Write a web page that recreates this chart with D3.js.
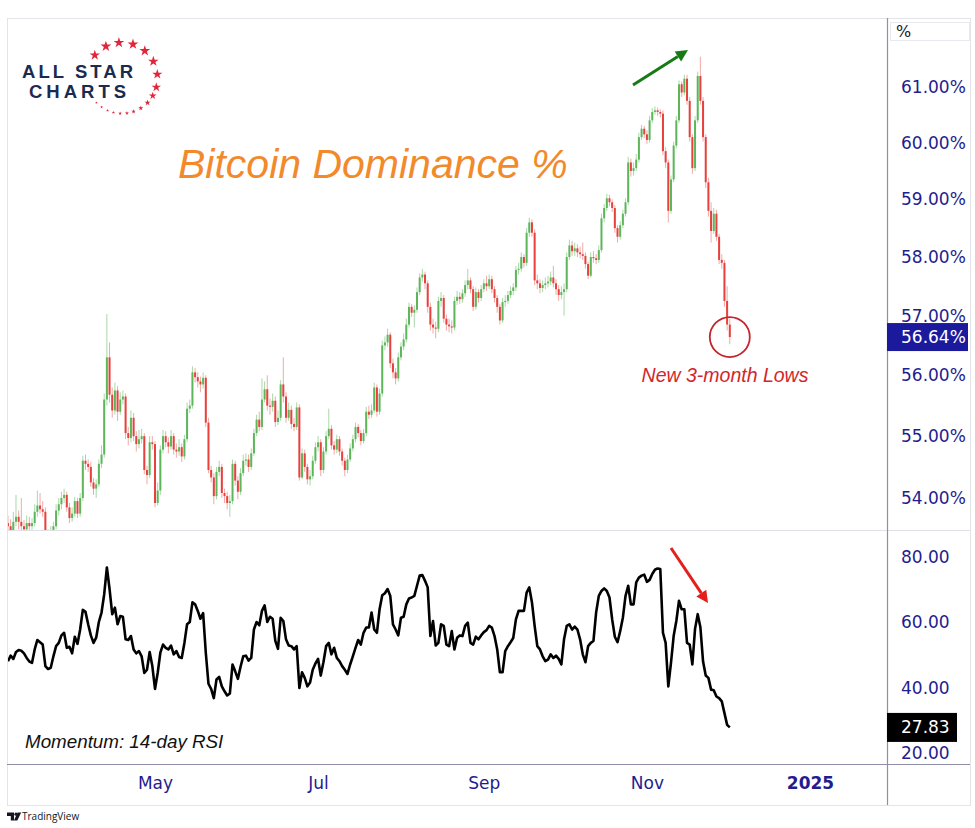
<!DOCTYPE html>
<html>
<head>
<meta charset="utf-8">
<script src="https://cdn.jsdelivr.net/npm/d3@7"></script>
<style>
  body { margin: 0; background: #fff; }
  svg { display: block; }
</style>
</head>
<body>
<div id="chart"></div>
<script>
// daily candles, first one on 7 Mar 2024, opens = previous close
const startDate = new Date(Date.UTC(2024, 2, 7))
const firstOpen = 53.60

const closes = [
  53.55, 53.45, 53.62, 53.70, 53.62, 53.55, 53.50, 53.60, 53.55, 53.60,
  53.78, 53.88, 53.82, 53.78, 53.40, 53.35, 53.42, 53.55, 53.80, 53.90,
  54.00, 54.05, 53.85, 53.68, 53.75, 53.95, 53.75, 54.00, 54.60, 54.55,
  54.50, 54.25, 54.15, 54.22, 54.55, 54.70, 55.60, 56.30, 55.68, 55.42,
  55.75, 55.40, 55.60, 55.65, 55.05, 54.97, 55.30, 55.00, 54.87, 54.95,
  55.00, 54.45, 54.37, 54.90, 54.87, 53.92, 54.12, 54.78, 55.00, 54.90,
  54.83, 55.00, 54.78, 54.75, 54.82, 54.67, 54.95, 55.45, 55.50, 56.05,
  55.97, 55.90, 55.85, 55.96, 55.22, 54.45, 54.33, 54.03, 54.42, 54.50,
  54.08, 54.03, 53.92, 53.95, 54.55, 54.28, 54.10, 54.40, 54.60, 54.62,
  54.50, 54.72, 55.05, 55.27, 55.15, 55.60, 55.77, 55.50, 55.48, 55.58,
  55.23, 55.30, 55.85, 55.65, 55.30, 55.43, 55.20, 55.15, 55.47, 54.33,
  54.72, 54.50, 54.30, 54.35, 54.60, 54.82, 54.90, 54.45, 54.75, 55.00,
  55.12, 54.85, 54.78, 54.95, 54.75, 54.60, 54.45, 54.62, 54.80, 54.95,
  55.15, 55.05, 54.92, 55.05, 55.40, 55.35, 55.42, 55.80, 55.40, 55.70,
  56.50, 56.55, 56.68, 56.20, 56.05, 55.95, 56.30, 56.48, 56.60, 56.85,
  57.15, 57.05, 57.10, 57.40, 57.65, 57.70, 57.55, 57.15, 56.85, 56.80,
  56.78, 57.25, 57.30, 56.95, 56.85, 56.82, 56.80, 57.25, 57.32, 57.28,
  57.38, 57.52, 57.60, 57.45, 57.15, 57.40, 57.30, 57.45, 57.55, 57.50,
  57.62, 57.45, 57.30, 57.15, 56.92, 57.23, 57.25, 57.35, 57.42, 57.48,
  57.78, 57.80, 58.00, 57.90, 58.42, 58.60, 58.42, 57.60, 57.55, 57.47,
  57.52, 57.55, 57.58, 57.65, 57.55, 57.45, 57.35, 57.40, 57.45, 58.00,
  58.20, 58.10, 58.15, 58.08, 58.05, 58.02, 57.88, 57.68, 58.00, 57.98,
  57.95, 58.12, 58.67, 58.85, 59.02, 58.95, 58.85, 58.50, 58.35, 58.55,
  58.75, 58.95, 59.65, 59.50, 59.55, 59.70, 60.10, 60.25, 60.15, 60.05,
  60.40, 60.55, 60.58, 60.55, 60.52, 59.85, 59.65, 58.80, 59.35, 59.95,
  60.40, 61.05, 60.90, 61.15, 60.75, 60.10, 59.55, 60.40, 61.20, 60.75,
  60.10, 59.30, 58.80, 58.45, 58.75, 58.35, 57.95, 57.90, 57.25, 56.85,
  56.64
]

const highs = [
  53.72, 53.66, 53.78, 54.05, 53.80, 54.00, 53.65, 53.72, 53.70, 53.68,
  53.90, 54.12, 54.08, 53.95, 53.85, 53.50, 53.55, 53.62, 53.90, 54.00,
  54.10, 54.15, 54.10, 53.92, 53.85, 54.02, 54.00, 54.08, 54.68, 54.70,
  54.62, 54.58, 54.32, 54.30, 54.62, 54.85, 55.70, 57.03, 56.55, 55.80,
  55.88, 55.82, 55.72, 55.75, 55.70, 55.15, 55.42, 55.38, 55.08, 55.10,
  55.12, 55.05, 54.52, 55.00, 55.00, 54.92, 54.25, 54.85, 55.10, 55.08,
  54.98, 55.10, 55.05, 54.88, 54.95, 54.88, 55.02, 55.55, 55.60, 56.15,
  56.12, 56.05, 55.98, 56.05, 56.00, 55.30, 54.52, 54.40, 54.50, 54.60,
  54.55, 54.15, 54.10, 54.05, 54.62, 54.60, 54.35, 54.48, 54.70, 54.72,
  54.70, 54.80, 55.12, 55.35, 55.40, 55.95, 55.90, 56.00, 55.62, 55.70,
  55.65, 55.42, 55.92, 56.30, 55.72, 55.55, 55.50, 55.30, 55.55, 55.52,
  54.80, 54.78, 54.55, 54.45, 54.68, 54.90, 55.00, 54.95, 54.82, 55.08,
  55.45, 55.18, 54.92, 55.02, 55.00, 54.80, 54.65, 54.70, 54.88, 55.02,
  55.22, 55.20, 55.10, 55.12, 55.48, 55.50, 55.52, 55.88, 55.85, 55.78,
  56.58, 56.65, 56.78, 56.72, 56.28, 56.12, 56.38, 56.55, 56.70, 56.95,
  57.22, 57.20, 57.18, 57.48, 57.72, 57.80, 57.75, 57.60, 57.22, 56.95,
  56.90, 57.32, 57.40, 57.35, 57.02, 56.95, 56.92, 57.32, 57.42, 57.40,
  57.45, 57.60, 57.80, 57.65, 57.50, 57.48, 57.45, 57.52, 57.62, 57.68,
  57.70, 57.68, 57.50, 57.35, 57.20, 57.30, 57.35, 57.42, 57.50, 57.55,
  57.85, 57.90, 58.08, 58.05, 58.50, 58.68, 58.65, 58.48, 57.70, 57.62,
  57.60, 57.65, 57.68, 57.75, 57.85, 57.62, 57.52, 57.50, 57.55, 58.08,
  58.30, 58.28, 58.25, 58.22, 58.18, 58.25, 58.08, 57.92, 58.08, 58.10,
  58.05, 58.20, 58.75, 58.92, 59.10, 59.08, 59.00, 58.90, 58.55, 58.62,
  58.82, 59.02, 59.75, 59.72, 59.65, 59.80, 60.18, 60.32, 60.30, 60.22,
  60.48, 60.62, 60.65, 60.63, 60.60, 60.58, 59.92, 59.70, 59.42, 60.02,
  60.48, 61.12, 61.10, 61.22, 61.22, 60.82, 60.15, 60.48, 61.28, 61.55,
  60.82, 60.15, 59.38, 58.95, 58.85, 58.82, 58.40, 58.05, 57.95, 57.50,
  56.95
]

const lows = [
  53.40, 53.38, 53.40, 53.55, 53.50, 53.45, 53.40, 53.44, 53.42, 53.48,
  53.55, 53.70, 53.75, 53.70, 53.30, 53.25, 53.28, 53.36, 53.50, 53.72,
  53.82, 53.92, 53.78, 53.60, 53.62, 53.70, 53.68, 53.70, 53.95, 54.45,
  54.42, 54.18, 54.05, 54.00, 54.18, 54.48, 54.65, 55.50, 55.55, 55.30,
  55.35, 55.25, 55.35, 55.52, 54.95, 54.85, 54.90, 54.92, 54.75, 54.80,
  54.88, 54.38, 54.22, 54.32, 54.78, 53.85, 53.88, 54.05, 54.72, 54.82,
  54.72, 54.78, 54.70, 54.65, 54.68, 54.58, 54.62, 54.90, 55.38, 55.45,
  55.88, 55.80, 55.72, 55.78, 55.15, 54.40, 54.25, 53.90, 53.98, 54.35,
  54.00, 53.92, 53.82, 53.70, 53.90, 54.20, 53.98, 54.05, 54.35, 54.52,
  54.42, 54.45, 54.68, 55.00, 55.08, 55.10, 55.55, 55.42, 55.35, 55.40,
  55.15, 55.18, 55.25, 55.55, 55.22, 55.25, 55.12, 55.08, 55.10, 54.28,
  54.30, 54.42, 54.22, 54.20, 54.30, 54.55, 54.75, 54.35, 54.40, 54.70,
  54.95, 54.78, 54.70, 54.72, 54.68, 54.52, 54.35, 54.40, 54.58, 54.75,
  54.90, 54.98, 54.85, 54.88, 55.00, 55.28, 55.30, 55.38, 55.32, 55.35,
  55.65, 56.42, 56.48, 56.12, 55.95, 55.85, 55.90, 56.25, 56.42, 56.55,
  56.80, 56.98, 56.80, 57.05, 57.35, 57.58, 57.45, 57.05, 56.75, 56.70,
  56.62, 56.72, 57.15, 56.88, 56.75, 56.72, 56.70, 56.75, 57.18, 57.20,
  57.22, 57.32, 57.45, 57.38, 57.08, 57.10, 57.22, 57.25, 57.40, 57.42,
  57.45, 57.38, 57.22, 57.05, 56.85, 56.88, 57.15, 57.20, 57.30, 57.35,
  57.42, 57.70, 57.75, 57.82, 57.85, 58.35, 58.35, 57.52, 57.45, 57.38,
  57.40, 57.45, 57.48, 57.52, 57.48, 57.35, 57.25, 57.28, 57.00, 57.40,
  57.95, 58.02, 58.02, 58.00, 57.98, 57.95, 57.80, 57.62, 57.65, 57.90,
  57.88, 57.90, 58.08, 58.60, 58.80, 58.88, 58.78, 58.42, 58.25, 58.30,
  58.50, 58.70, 58.90, 59.40, 59.42, 59.50, 59.65, 60.05, 60.08, 59.98,
  60.00, 60.35, 60.50, 60.48, 60.45, 59.78, 59.55, 58.60, 58.75, 59.30,
  59.90, 60.35, 60.82, 60.85, 60.68, 60.02, 59.45, 59.50, 60.35, 60.68,
  60.02, 59.20, 58.70, 58.25, 58.40, 58.28, 57.88, 57.80, 57.15, 56.75,
  56.52
]

// 14-day RSI, same days as the candles
const rsi = [
  48.1, 49.8, 48.8, 50.9, 51.5, 51.3, 50.5, 49.1, 48.0, 47.6,
  51.7, 54.6, 53.9, 53.2, 46.6, 45.7, 46.1, 49.6, 52.7, 53.7,
  56.0, 56.8, 52.2, 52.5, 50.5, 55.6, 53.4, 57.8, 63.8, 63.2,
  59.4, 56.0, 53.7, 55.3, 60.1, 63.0, 68.6, 76.8, 70.2, 62.5,
  64.5, 59.4, 61.9, 61.7, 54.8, 54.6, 55.8, 51.7, 50.5, 51.2,
  49.6, 44.5, 45.5, 50.9, 46.6, 39.6, 44.5, 50.7, 53.2, 52.2,
  51.7, 52.9, 50.2, 51.2, 49.4, 49.1, 53.7, 59.4, 60.1, 66.1,
  65.5, 63.5, 61.1, 62.8, 50.7, 41.2, 39.6, 36.8, 42.5, 43.3,
  40.4, 38.9, 37.6, 38.2, 47.1, 45.0, 42.7, 46.4, 49.6, 49.8,
  48.3, 49.1, 57.8, 60.1, 59.1, 63.5, 65.2, 60.1, 61.7, 61.1,
  54.3, 51.9, 61.4, 60.4, 54.8, 52.9, 52.7, 51.7, 52.7, 39.9,
  44.7, 43.0, 40.4, 41.6, 45.5, 47.4, 48.8, 43.7, 47.8, 52.7,
  53.7, 50.2, 52.2, 49.1, 48.1, 46.6, 45.5, 44.2, 47.1, 49.6,
  52.2, 54.6, 53.2, 56.8, 58.4, 58.4, 63.0, 57.8, 56.8, 64.0,
  68.3, 68.9, 70.2, 68.1, 59.4, 57.8, 56.0, 61.4, 61.7, 65.5,
  67.3, 67.6, 68.1, 71.2, 74.3, 74.5, 72.7, 70.7, 55.8, 60.4,
  52.9, 53.7, 59.4, 58.9, 53.2, 52.7, 57.3, 51.7, 55.3, 56.0,
  55.8, 58.9, 59.9, 53.7, 53.2, 55.6, 54.8, 56.0, 57.0, 57.6,
  58.9, 58.4, 55.8, 51.7, 44.7, 44.7, 51.2, 52.7, 53.9, 55.2,
  60.9, 63.5, 63.5, 63.5, 69.1, 70.7, 66.1, 58.9, 52.7, 51.7,
  49.6, 48.1, 48.6, 50.2, 49.1, 49.8, 48.8, 47.1, 54.8, 58.9,
  59.4, 57.8, 58.7, 57.8, 54.8, 50.2, 47.8, 52.7, 53.7, 54.3,
  63.0, 68.1, 69.6, 70.4, 69.6, 67.6, 60.9, 55.6, 53.9, 57.3,
  61.4, 68.1, 71.2, 65.5, 65.5, 72.2, 73.7, 74.3, 74.6, 72.4,
  73.0, 74.8, 76.1, 76.5, 76.3, 56.8, 53.7, 40.4, 47.6, 55.8,
  60.4, 66.6, 64.0, 64.0, 53.7, 53.2, 47.1, 58.0, 62.5, 58.5,
  48.0, 43.7, 43.0, 39.4, 39.2, 37.3, 36.8, 35.8, 32.2, 28.6,
  27.83
]

const priceTicks = [54, 55, 56, 57, 58, 59, 60, 61]
const rsiTicks = [20, 40, 60, 80]
const timeTicks = [
  new Date(Date.UTC(2024, 4, 1)),
  new Date(Date.UTC(2024, 6, 1)),
  new Date(Date.UTC(2024, 8, 1)),
  new Date(Date.UTC(2024, 10, 1)),
  new Date(Date.UTC(2025, 0, 1))
]
const timeLabels = ['May', 'Jul', 'Sep', 'Nov', '2025']

const width = 975
const height = 828

// pane geometry
const pane = {
  left: 7,
  axisX: 887,
  right: 970,
  top: 18,
  split: 530,
  timeY: 764,
  bottom: 805
}

const navy = '#1f1d8f'
const axisFont = '"DejaVu Sans", Verdana, sans-serif'

const svg = d3
  .select('#chart')
  .append('svg')
  .attr('width', width)
  .attr('height', height)

const xPositionScale = d3
  .scaleUtc()
  .domain([timeTicks[0], timeTicks[4]])
  .range([155, 810])

const yPriceScale = d3
  .scaleLog()
  .domain([54, 61])
  .range([498, 87])

const yRsiScale = d3
  .scaleLinear()
  .domain([20, 80])
  .range([753, 557])

const candles = closes.map((c, i) => {
  return {
    date: d3.utcDay.offset(startDate, i),
    open: i === 0 ? firstOpen : closes[i - 1],
    high: highs[i],
    low: lows[i],
    close: c,
    rsi: rsi[i]
  }
})

// frame + separators
svg.append('rect')
  .attr('x', pane.left + 0.5)
  .attr('y', pane.top + 0.5)
  .attr('width', pane.right - pane.left)
  .attr('height', pane.bottom - pane.top)
  .attr('fill', 'none')
  .attr('stroke', '#e3e4ea')

svg.append('line')
  .attr('x1', pane.left).attr('x2', pane.right)
  .attr('y1', pane.split + 0.5).attr('y2', pane.split + 0.5)
  .attr('stroke', '#e0e1e8')

svg.append('line')
  .attr('x1', pane.left).attr('x2', pane.right)
  .attr('y1', pane.timeY + 0.5).attr('y2', pane.timeY + 0.5)
  .attr('stroke', '#8f90a8')
  .attr('stroke-width', 1.2)

svg.append('line')
  .attr('x1', pane.axisX + 0.5).attr('x2', pane.axisX + 0.5)
  .attr('y1', pane.top).attr('y2', pane.bottom)
  .attr('stroke', '#8f90a8')
  .attr('stroke-width', 1.2)

// clip areas
const defs = svg.append('defs')
defs.append('clipPath').attr('id', 'price-clip')
  .append('rect')
  .attr('x', pane.left + 1).attr('y', pane.top + 1)
  .attr('width', pane.axisX - pane.left - 1).attr('height', pane.split - pane.top - 1)

defs.append('clipPath').attr('id', 'rsi-clip')
  .append('rect')
  .attr('x', pane.left + 1).attr('y', pane.split + 1)
  .attr('width', pane.axisX - pane.left - 1).attr('height', pane.timeY - pane.split - 1)

// candles
const candleG = svg.append('g').attr('clip-path', 'url(#price-clip)')

candleG.selectAll('.wick')
  .data(candles)
  .enter()
  .append('line')
  .attr('class', 'wick')
  .attr('x1', d => xPositionScale(d.date))
  .attr('x2', d => xPositionScale(d.date))
  .attr('y1', d => yPriceScale(d.high))
  .attr('y2', d => yPriceScale(d.low))
  .attr('stroke', d => d.close >= d.open ? '#a9d8a6' : '#eeaaa8')
  .attr('stroke-width', 1)

candleG.selectAll('.body')
  .data(candles)
  .enter()
  .append('rect')
  .attr('class', 'body')
  .attr('x', d => xPositionScale(d.date) - 1)
  .attr('width', 2)
  .attr('y', d => yPriceScale(Math.max(d.open, d.close)))
  .attr('height', d => {
    return Math.max(1, Math.abs(yPriceScale(d.open) - yPriceScale(d.close)))
  })
  .attr('fill', d => d.close >= d.open ? '#5db65a' : '#e8403c')

// rsi line
const rsiLine = d3.line()
  .x(d => xPositionScale(d.date))
  .y(d => yRsiScale(d.rsi))

svg.append('g')
  .attr('clip-path', 'url(#rsi-clip)')
  .append('path')
  .datum(candles)
  .attr('d', rsiLine)
  .attr('fill', 'none')
  .attr('stroke', '#000')
  .attr('stroke-width', 2.6)
  .attr('stroke-linejoin', 'round')

// axes
const priceAxis = d3.axisRight(yPriceScale)
  .tickValues(priceTicks)
  .tickFormat(d => d.toFixed(2) + '%')
  .tickSize(0)
  .tickPadding(14)

const rsiAxis = d3.axisRight(yRsiScale)
  .tickValues(rsiTicks)
  .tickFormat(d => d.toFixed(2))
  .tickSize(0)
  .tickPadding(14)

const timeAxis = d3.axisBottom(xPositionScale)
  .tickValues(timeTicks)
  .tickFormat((d, i) => timeLabels[i])
  .tickSize(0)
  .tickPadding(13)

svg.append('g').attr('class', 'y-axis')
  .attr('transform', 'translate(' + pane.axisX + ',0)')
  .call(priceAxis)

svg.append('g').attr('class', 'y-axis')
  .attr('transform', 'translate(' + pane.axisX + ',0)')
  .call(rsiAxis)

svg.append('g').attr('class', 'x-axis')
  .attr('transform', 'translate(0,' + pane.timeY + ')')
  .call(timeAxis)

svg.selectAll('.y-axis .domain, .x-axis .domain').remove()
svg.selectAll('.y-axis text, .x-axis text')
  .attr('fill', navy)
  .style('font-family', axisFont)
  .style('font-size', '17px')
svg.selectAll('.x-axis text')
  .filter((d, i) => i === 4)
  .style('font-weight', 'bold')

// "%" box at the top of the price scale
svg.append('rect')
  .attr('x', 890.5).attr('y', 22.5)
  .attr('width', 79).attr('height', 18)
  .attr('fill', '#fff')
  .attr('stroke', '#e8e9ee')
svg.append('text')
  .attr('x', 896).attr('y', 37)
  .text('%')
  .attr('fill', '#222')
  .style('font-family', axisFont)
  .style('font-size', '16px')

// last value labels
const last = candles[candles.length - 1]

svg.append('rect')
  .attr('x', pane.axisX).attr('y', yPriceScale(last.close) - 14)
  .attr('width', 81).attr('height', 28)
  .attr('fill', '#1c1a9c')
svg.append('text')
  .attr('x', pane.axisX + 14).attr('y', yPriceScale(last.close))
  .attr('dy', '0.35em')
  .text(last.close.toFixed(2) + '%')
  .attr('fill', '#fff')
  .style('font-family', axisFont)
  .style('font-size', '17px')

svg.append('rect')
  .attr('x', pane.axisX).attr('y', yRsiScale(last.rsi) - 14.5)
  .attr('width', 70).attr('height', 29)
  .attr('fill', '#000')
svg.append('text')
  .attr('x', pane.axisX + 14).attr('y', yRsiScale(last.rsi))
  .attr('dy', '0.35em')
  .text(last.rsi.toFixed(2))
  .attr('fill', '#fff')
  .style('font-family', axisFont)
  .style('font-size', '17px')

// titles and notes
svg.append('text')
  .attr('x', 178).attr('y', 178)
  .text('Bitcoin Dominance %')
  .attr('fill', '#f28a2c')
  .style('font-family', '"Liberation Sans", Arial, sans-serif')
  .style('font-style', 'italic')
  .style('font-size', '41px')

svg.append('text')
  .attr('x', 25).attr('y', 748)
  .text('Momentum: 14-day RSI')
  .attr('fill', '#111')
  .style('font-family', '"Liberation Sans", Arial, sans-serif')
  .style('font-style', 'italic')
  .style('font-size', '18.8px')

svg.append('text')
  .attr('x', 725).attr('y', 382)
  .attr('text-anchor', 'middle')
  .text('New 3-month Lows')
  .attr('fill', '#d3262b')
  .style('font-family', '"Liberation Sans", Arial, sans-serif')
  .style('font-style', 'italic')
  .style('font-size', '19.5px')

svg.append('circle')
  .attr('cx', xPositionScale(last.date))
  .attr('cy', yPriceScale(last.close))
  .attr('r', 20)
  .attr('fill', 'none')
  .attr('stroke', '#c3262d')
  .attr('stroke-width', 1.8)

// arrows
function arrow(x1, y1, x2, y2, color) {
  const a = Math.atan2(y2 - y1, x2 - x1)
  const len = 12
  const w = 6
  const bx = x2 - len * Math.cos(a)
  const by = y2 - len * Math.sin(a)
  svg.append('line')
    .attr('x1', x1).attr('y1', y1)
    .attr('x2', bx).attr('y2', by)
    .attr('stroke', color)
    .attr('stroke-width', 3)
  svg.append('path')
    .attr('d', 'M' + x2 + ',' + y2 +
      'L' + (bx + w * Math.sin(a)) + ',' + (by - w * Math.cos(a)) +
      'L' + (bx - w * Math.sin(a)) + ',' + (by + w * Math.cos(a)) + 'Z')
    .attr('fill', color)
}
arrow(633, 85, 688, 50, '#177a17')
arrow(671, 548, 708, 603, '#e3201b')

// logo
const logo = svg.append('g')
logo.append('text')
  .attr('x', 22).attr('y', 77.5)
  .attr('textLength', 111)
  .attr('lengthAdjust', 'spacing')
  .text('ALL STAR')
  .attr('fill', '#1b2b4d')
  .style('font-family', '"Liberation Sans", Arial, sans-serif')
  .style('font-weight', 'bold')
  .style('font-size', '18.5px')
logo.append('text')
  .attr('x', 29).attr('y', 98.4)
  .attr('textLength', 97)
  .attr('lengthAdjust', 'spacing')
  .text('CHARTS')
  .attr('fill', '#1b2b4d')
  .style('font-family', '"Liberation Sans", Arial, sans-serif')
  .style('font-weight', 'bold')
  .style('font-size', '18.5px')

const starAngles = [-140, -117, -95, -72, -50, -28, -6, 15, 30, 44, 58, 71, 82, 93, 104, 114, 125, 136]
const starSizes = [34, 36, 36, 36, 36, 34, 32, 28, 18, 12, 8, 6, 5, 4, 3.5, 3, 2.5, 2.5]
logo.selectAll('.star')
  .data(starAngles)
  .enter()
  .append('path')
  .attr('class', 'star')
  .attr('d', (d, i) => d3.symbol(d3.symbolStar, starSizes[i])())
  .attr('transform', d => {
    const a = d * Math.PI / 180
    return 'translate(' + (122 + 35.5 * Math.cos(a)) + ',' + (78 + 35.5 * Math.sin(a)) + ')'
  })
  .attr('fill', '#e0263a')

// tradingview mark
svg.append('path')
  .attr('d', 'M7,812.5h7v8h-3.2v-4.6H7Z M17.6,812.5h3.6l-3.9,8h-3.4Z')
  .attr('fill', '#131722')
svg.append('circle')
  .attr('cx', 16).attr('cy', 814.2).attr('r', 1.6)
  .attr('fill', '#131722')
svg.append('text')
  .attr('x', 22).attr('y', 820)
  .text('TradingView')
  .attr('fill', '#131722')
  .style('font-family', '"Open Sans", sans-serif')
  .style('font-size', '10px')
</script>
</body>
</html>
